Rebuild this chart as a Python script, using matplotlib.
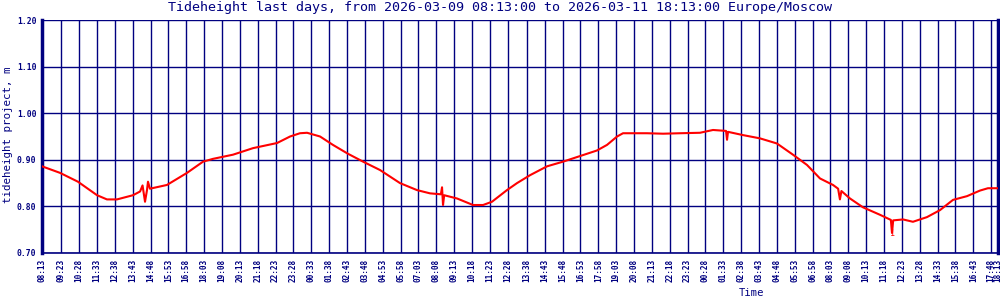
import matplotlib
matplotlib.use("Agg")
import matplotlib.pyplot as plt

# Data: hours elapsed since 2026-03-09 08:13, tide height (m)
hours = [0.00, 1.09, 2.18, 3.34, 3.94, 4.55, 5.52, 5.95, 6.10, 6.25, 6.37, 6.43, 6.55,
         7.58, 8.80, 9.77, 10.37, 11.59, 12.80, 14.26, 15.05, 15.65, 16.08, 16.87,
         17.65, 18.56, 19.48, 20.51, 21.72, 22.75, 23.54, 24.20, 24.27, 24.33, 24.40,
         25.18, 26.15, 26.76, 27.30, 28.21, 28.82, 29.61, 30.64, 31.61, 32.64, 33.67,
         34.28, 34.89, 35.25, 36.70, 37.68, 38.71, 39.92, 40.71, 41.50, 41.56, 41.62,
         42.53, 43.56, 44.59, 45.56, 46.41, 47.20, 47.99, 48.30, 48.41, 48.50, 49.02,
         49.81, 50.84, 51.50, 51.57, 51.64, 52.24, 52.84, 53.69, 54.48, 55.27, 56.12,
         56.91, 57.39, 58.00]
height = [0.886, 0.872, 0.853, 0.824, 0.815, 0.815, 0.824, 0.832, 0.845, 0.810, 0.835, 0.853, 0.838,
          0.846, 0.872, 0.896, 0.902, 0.911, 0.925, 0.936, 0.950, 0.957, 0.958, 0.950,
          0.932, 0.913, 0.896, 0.878, 0.850, 0.835, 0.828, 0.826, 0.841, 0.803, 0.824,
          0.817, 0.803, 0.803, 0.810, 0.835, 0.850, 0.867, 0.886, 0.896, 0.908, 0.920,
          0.932, 0.950, 0.957, 0.957, 0.956, 0.957, 0.958, 0.964, 0.962, 0.943, 0.960,
          0.953, 0.946, 0.935, 0.911, 0.889, 0.860, 0.846, 0.838, 0.815, 0.833, 0.817,
          0.798, 0.782, 0.771, 0.743, 0.770, 0.772, 0.767, 0.777, 0.792, 0.814, 0.822,
          0.834, 0.839, 0.839]

tick_labels = ["08:13", "09:23", "10:28", "11:33", "12:38", "13:43", "14:48", "15:53",
               "16:58", "18:03", "19:08", "20:13", "21:18", "22:23", "23:28",
               "00:33", "01:38", "02:43", "03:48", "04:53", "05:58", "07:03", "08:08",
               "09:13", "10:18", "11:23", "12:28", "13:38", "14:43", "15:48", "16:53",
               "17:58", "19:03", "20:08", "21:13", "22:18", "23:23",
               "00:28", "01:33", "02:38", "03:43", "04:48", "05:53", "06:58", "08:03",
               "09:08", "10:13", "11:18", "12:23", "13:28", "14:33", "15:38", "16:43",
               "17:48", "18:13"]
y_ticks = [0.70, 0.80, 0.90, 1.00, 1.10, 1.20]

title = "Tideheight last days, from 2026-03-09 08:13:00 to 2026-03-11 18:13:00 Europe/Moscow"

# tick positions from labels (elapsed hours with day rollover)
start_min = 8 * 60 + 13
tick_pos = []
day = 0
prev = None
for lab in tick_labels:
    h, m = map(int, lab.split(":"))
    mins = h * 60 + m
    if prev is not None and mins < prev:
        day += 1
    prev = mins
    tick_pos.append((mins + day * 1440 - start_min) / 60.0)

NAVY = "#000080"
MONO = "DejaVu Sans Mono"

fig = plt.figure(figsize=(10, 3), dpi=100)
ax = fig.add_axes([0.042, 1 - 253 / 300, 0.956, (253 - 20) / 300])
ax.set_xlim(0, 58)
ax.set_ylim(0.70, 1.20)

for x in tick_pos:
    ax.axvline(x, color=NAVY, lw=1.0, zorder=1)
for y in y_ticks:
    ax.axhline(y, color=NAVY, lw=1.0, zorder=1)

ax.plot(hours, height, color="red", lw=1.5, zorder=3)
ax.text(51.57, 0.742, "1", color="red", fontsize=6, family=MONO,
        ha="center", va="center", zorder=4)

ax.set_xticks(tick_pos)
ax.set_xticklabels(tick_labels, rotation=90, fontsize=5.6, family=MONO,
                   fontweight="bold", color=NAVY)
ax.set_yticks(y_ticks)
ax.set_yticklabels([f"{v:.2f}" for v in y_ticks], fontsize=5.8, family=MONO,
                   fontweight="bold", color=NAVY)
ax.tick_params(length=0, pad=4)

ax.spines["top"].set_visible(False)
ax.spines["bottom"].set_color(NAVY)
ax.spines["bottom"].set_linewidth(1.2)
ax.spines["left"].set_color(NAVY)
ax.spines["left"].set_linewidth(2.5)
ax.spines["right"].set_color(NAVY)
ax.spines["right"].set_linewidth(2.5)

fig.text(0.5, 1 - 8 / 300, title, ha="center", va="center", fontsize=9.6,
         family=MONO, color=NAVY)
fig.text(0.008, 1 - 135 / 300, "tideheight project, m", rotation=90, ha="center",
         va="center", fontsize=7.8, family=MONO, color=NAVY)
fig.text(0.752, 1 - 293 / 300, "Time", ha="center", va="center", fontsize=7.6,
         family=MONO, color=NAVY)

fig.savefig("out.png", dpi=100, facecolor="white")
